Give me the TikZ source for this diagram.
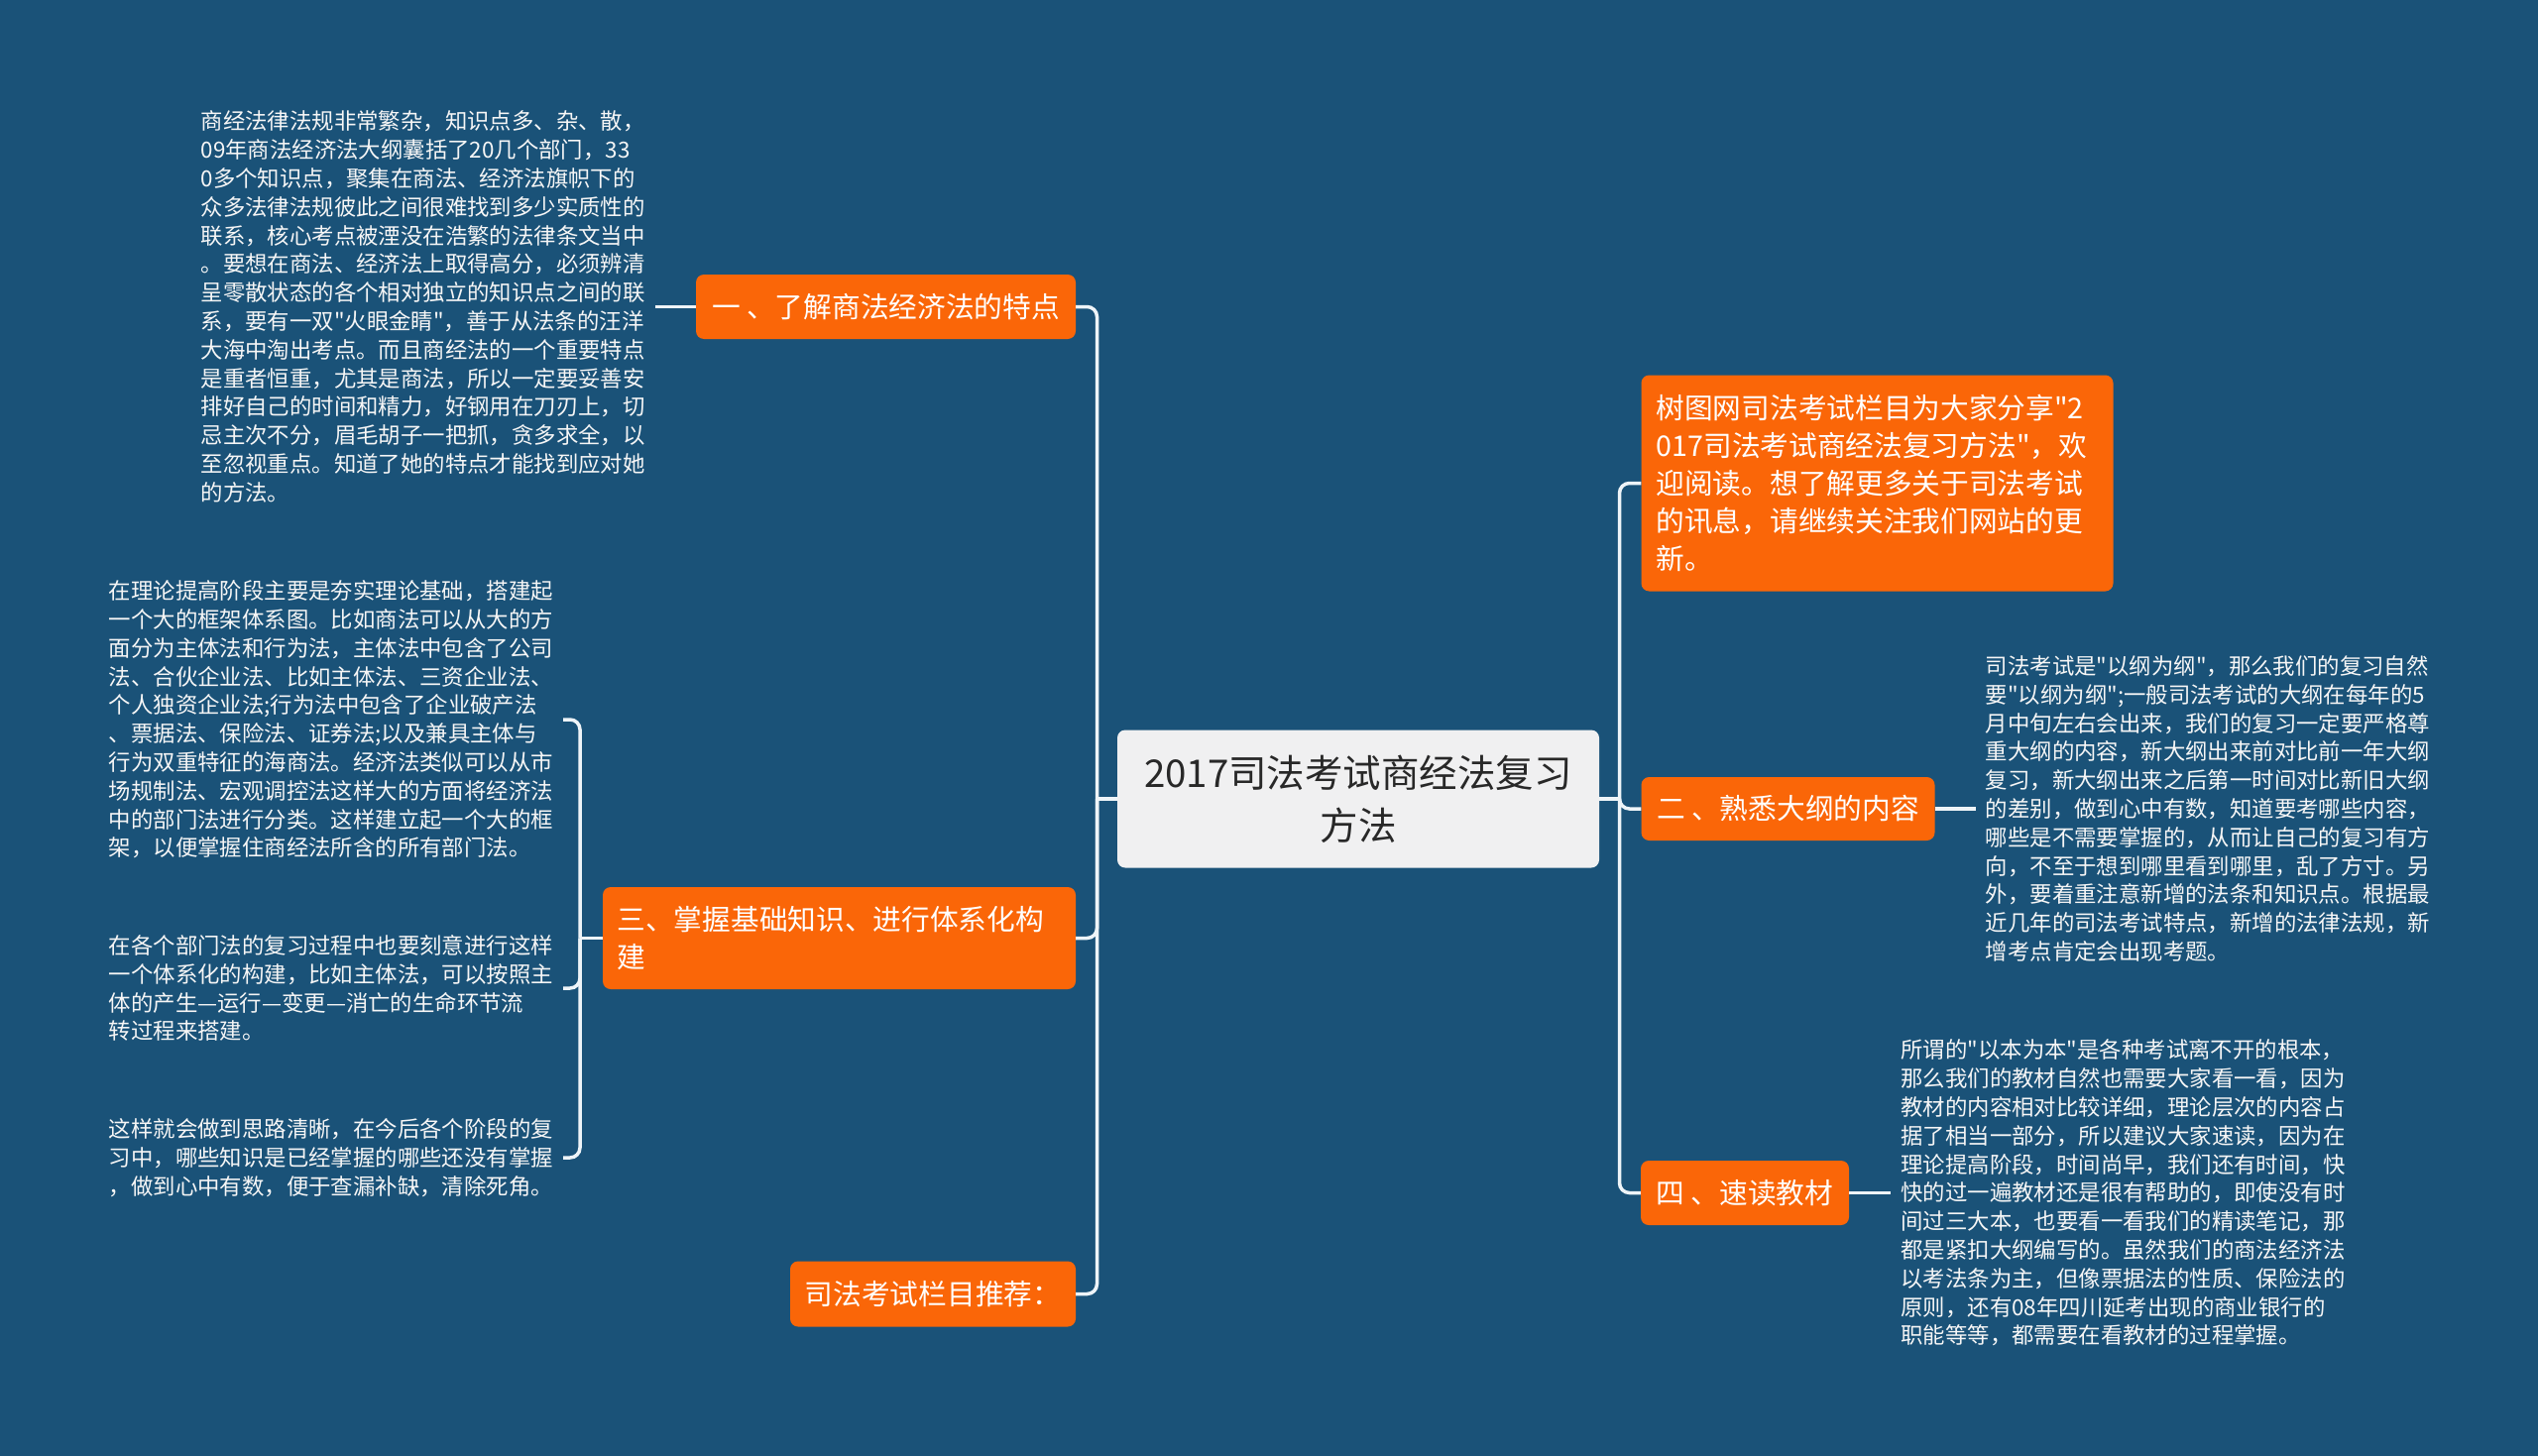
\documentclass[tikz,border=0pt]{standalone}
\usepackage{fontspec}
\setmainfont{Noto Sans CJK SC}[Ligatures=TeXOff]
\definecolor{bg}{RGB}{26,82,120}
\definecolor{org}{RGB}{250,102,8}
\definecolor{lnk}{RGB}{238,244,248}
\definecolor{ctrfill}{RGB}{240,240,241}
\definecolor{ctrtext}{RGB}{40,40,40}
\definecolor{leaftext}{RGB}{246,246,246}
\begin{document}
\begin{tikzpicture}[x=1pt,y=-1pt,
  conn/.style={draw=lnk, line width=3.5pt, rounded corners=10pt},
  obox/.style={fill=org, rounded corners=8pt, text=white, inner sep=0pt, font=\fontsize{28.7}{37.8}\selectfont},
  leaf/.style={text=leaftext, inner xsep=10pt, inner ysep=0pt, align=left, font=\fontsize{22.4}{28.8}\selectfont},
  ctr/.style={fill=ctrfill, rounded corners=8pt, text=ctrtext, inner sep=0pt, align=center, font=\fontsize{38.5}{53}\selectfont}]
\fill[bg] (0,0) rectangle (2560,1469);
\useasboundingbox (0,0) rectangle (2560,1469);

% central
\node[ctr, minimum width=486pt, minimum height=139pt] (C) at (1370,806) {2017司法考试商经法复习\\方法};

% right branch
\node[obox, minimum width=476pt, minimum height=218pt, text width=446pt, align=left] (R1) at (1893.5,487.5)
 {树图网司法考试栏目为大家分享"2\\017司法考试商经法复习方法"，欢\\迎阅读。想了解更多关于司法考试\\的讯息，请继续关注我们网站的更\\新。};
\node[obox, minimum width=296pt, minimum height=64pt] (R2) at (1803.5,816) {二 、熟悉大纲的内容};
\node[obox, minimum width=210pt, minimum height=65pt] (R3) at (1760,1203.5) {四 、速读教材};

% left branch
\node[obox, minimum width=383pt, minimum height=65pt] (L1) at (893.5,309.5) {一 、了解商法经济法的特点};
\node[obox, minimum width=477pt, minimum height=103pt, text width=448pt, align=left] (L2) at (846.5,946.5)
 {三、掌握基础知识、进行体系化构\\建};
\node[obox, minimum width=288pt, minimum height=66pt] (L3) at (941,1305.5) {司法考试栏目推荐：};

% leaves
\node[leaf, anchor=east] (T1) at ([xshift=-41pt]L1.west)
 {商经法律法规非常繁杂，知识点多、杂、散，\\09年商法经济法大纲囊括了20几个部门，33\\0多个知识点，聚集在商法、经济法旗帜下的\\众多法律法规彼此之间很难找到多少实质性的\\联系，核心考点被湮没在浩繁的法律条文当中\\。要想在商法、经济法上取得高分，必须辨清\\呈零散状态的各个相对独立的知识点之间的联\\系，要有一双"火眼金睛"，善于从法条的汪洋\\大海中淘出考点。而且商经法的一个重要特点\\是重者恒重，尤其是商法，所以一定要妥善安\\排好自己的时间和精力，好钢用在刀刃上，切\\忌主次不分，眉毛胡子一把抓，贪多求全，以\\至忽视重点。知道了她的特点才能找到应对她\\的方法。};

\coordinate (lb) at (585,946.5);
\node[leaf, anchor=east] (T4) at (568,726)
 {在理论提高阶段主要是夯实理论基础，搭建起\\一个大的框架体系图。比如商法可以从大的方\\面分为主体法和行为法，主体法中包含了公司\\法、合伙企业法、比如主体法、三资企业法、\\个人独资企业法;行为法中包含了企业破产法\\、票据法、保险法、证券法;以及兼具主体与\\行为双重特征的海商法。经济法类似可以从市\\场规制法、宏观调控法这样大的方面将经济法\\中的部门法进行分类。这样建立起一个大的框\\架，以便掌握住商经法所含的所有部门法。};
\node[leaf, anchor=east] (T5) at (568,997)
 {在各个部门法的复习过程中也要刻意进行这样\\一个体系化的构建，比如主体法，可以按照主\\体的产生—运行—变更—消亡的生命环节流\\转过程来搭建。};
\node[leaf, anchor=east] (T6) at (568,1168)
 {这样就会做到思路清晰，在今后各个阶段的复\\习中，哪些知识是已经掌握的哪些还没有掌握\\，做到心中有数，便于查漏补缺，清除死角。};

\node[leaf, anchor=west] (T2) at ([xshift=41pt]R2.east)
 {司法考试是"以纲为纲"，那么我们的复习自然\\要"以纲为纲";一般司法考试的大纲在每年的5\\月中旬左右会出来，我们的复习一定要严格尊\\重大纲的内容，新大纲出来前对比前一年大纲\\复习，新大纲出来之后第一时间对比新旧大纲\\的差别，做到心中有数，知道要考哪些内容，\\哪些是不需要掌握的，从而让自己的复习有方\\向，不至于想到哪里看到哪里，乱了方寸。另\\外，要着重注意新增的法条和知识点。根据最\\近几年的司法考试特点，新增的法律法规，新\\增考点肯定会出现考题。};
\node[leaf, anchor=west] (T3) at ([xshift=42pt]R3.east)
 {所谓的"以本为本"是各种考试离不开的根本，\\那么我们的教材自然也需要大家看一看，因为\\教材的内容相对比较详细，理论层次的内容占\\据了相当一部分，所以建议大家速读，因为在\\理论提高阶段，时间尚早，我们还有时间，快\\快的过一遍教材还是很有帮助的，即使没有时\\间过三大本，也要看一看我们的精读笔记，那\\都是紧扣大纲编写的。虽然我们的商法经济法\\以考法条为主，但像票据法的性质、保险法的\\原则，还有08年四川延考出现的商业银行的\\职能等等，都需要在看教材的过程掌握。};

% connectors
\coordinate (rj) at (1633.5,806);
\coordinate (lj) at (1106.5,806);
\draw[conn] (C.east) -- (rj);
\draw[conn] (rj) |- (R1.west);
\draw[conn] (rj) |- (R2.west);
\draw[conn] (rj) |- (R3.west);
\draw[conn] (C.west) -- (lj);
\draw[conn] (lj) |- (L1.east);
\draw[conn] (lj) |- (L2.east);
\draw[conn] (lj) |- (L3.east);
\draw[conn] (T1.east) -- (L1.west);
\draw[conn] (L2.west) -- (lb);
\draw[conn] (lb) |- (T4.east);
\draw[conn] (lb) |- (T5.east);
\draw[conn] (lb) |- (T6.east);
\draw[conn] (R2.east) -- (T2.west);
\draw[conn] (R3.east) -- (T3.west);
\end{tikzpicture}
\end{document}
